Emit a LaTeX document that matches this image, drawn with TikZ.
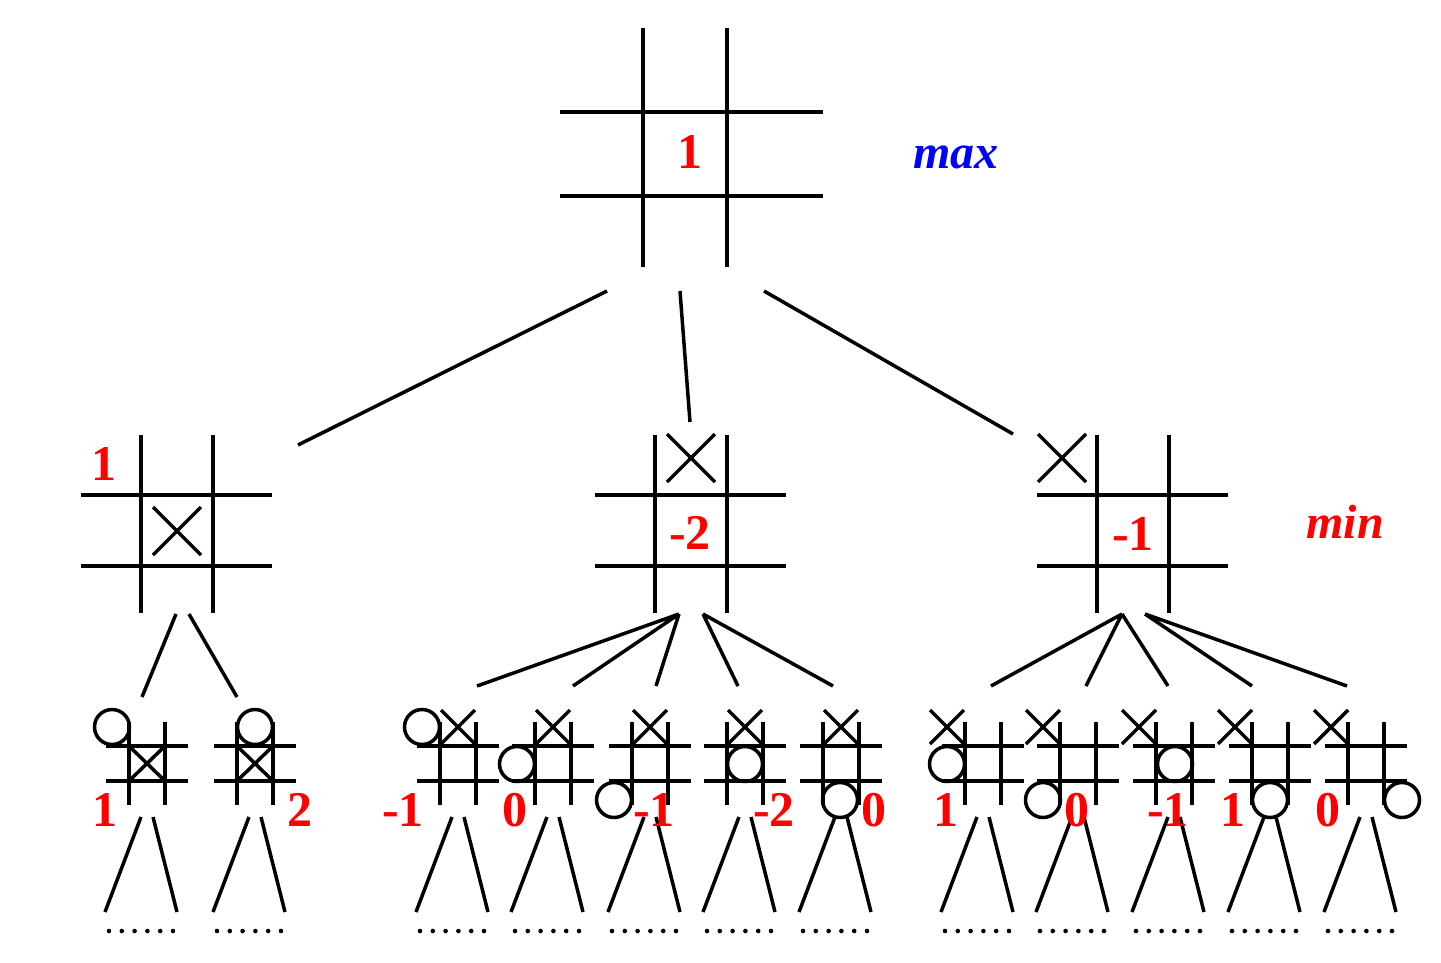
\documentclass[tikz,border=0pt]{standalone}
\usepackage{fontspec}
\setmainfont{Liberation Serif}
\begin{document}
\begin{tikzpicture}[x=1pt,y=-1pt,
  ln/.style={line width=3.5pt},
  val/.style={text=red,font=\fontsize{50}{50}\selectfont\bfseries,inner sep=0pt},
  lvl/.style={font=\fontsize{48}{48}\selectfont\bfseries\itshape,inner sep=0pt,anchor=base},
  xs/.pic={\draw[ln] (-17,-17)--(17,17) (-17,17)--(17,-17);},
  xc/.pic={\draw[ln] (0,0)--(36,35) (0,35)--(36,0);},
  xb/.pic={\draw[ln] (-24,-24)--(24,24) (-24,24)--(24,-24);},
  os/.pic={\draw[ln] (0,0) circle[radius=17.5pt];},
  sboard/.pic={
    \draw[ln] (0,-24)--(0,59) (36,-24)--(36,59) (-23,0)--(59,0) (-23,35)--(59,35);
    \coordinate (-a) at (12,71); \coordinate (-b) at (-24,166);
    \coordinate (-c) at (24,71); \coordinate (-d) at (48,166);
    \draw[ln] (12,71)--(-24,166) (24,71)--(48,166);
    \foreach \i in {0,...,5}{\fill (-20+12.8*\i,185) circle[radius=2.3pt];}
  },
  mboard/.pic={\draw[ln] (0,-60)--(0,118) (72,-60)--(72,118) (-60,0)--(131,0) (-60,71)--(131,71);}
]
\useasboundingbox (0,0) rectangle (1441,962);

% root board
\draw[ln] (643,28)--(643,267) (727,28)--(727,267) (560,112)--(823,112) (560,196)--(823,196);

% level 2 boards
\pic (L) at (141,495) {mboard}; \pic (Lx) at (177,531) {xb};
\pic (M) at (655,495) {mboard}; \pic (Mx) at (691,458) {xb};
\pic (R) at (1097,495) {mboard}; \pic (Rx) at (1062,458) {xb};

% root -> level 2
\coordinate (t1) at (607,291); \coordinate (c1) at (298,445);
\coordinate (t2) at (680,291); \coordinate (c2) at (690,422);
\coordinate (t3) at (764,291); \coordinate (c3) at (1013,434);
\draw[ln] (t1)--(c1) (t2)--(c2) (t3)--(c3);

% level 3 boards
\pic (b1) at (129,746) {sboard};  \pic (b1x) at (129,746) {xc}; \pic (b1o) at (112,727) {os};
\pic (b2) at (237,746) {sboard};  \pic (b2x) at (237,746) {xc}; \pic (b2o) at (255,727) {os};
\pic (bA) at (440,746) {sboard};  \pic (bAx) at (458,727) {xs}; \pic (bAo) at (422,727) {os};
\pic (bB) at (535,746) {sboard};  \pic (bBx) at (553,727) {xs}; \pic (bBo) at (517,764) {os};
\pic (bC) at (632,746) {sboard};  \pic (bCx) at (650,727) {xs}; \pic (bCo) at (614,800) {os};
\pic (bD) at (727,746) {sboard};  \pic (bDx) at (745,727) {xs}; \pic (bDo) at (745,764) {os};
\pic (bE) at (823,746) {sboard};  \pic (bEx) at (841,727) {xs}; \pic (bEo) at (840,800) {os};
\pic (bF) at (965,746) {sboard};  \pic (bFx) at (947,727) {xs}; \pic (bFo) at (947,764) {os};
\pic (bG) at (1060,746) {sboard}; \pic (bGx) at (1043,727) {xs}; \pic (bGo) at (1043,800) {os};
\pic (bH) at (1156,746) {sboard}; \pic (bHx) at (1139,727) {xs}; \pic (bHo) at (1175,764) {os};
\pic (bI) at (1252,746) {sboard}; \pic (bIx) at (1235,727) {xs}; \pic (bIo) at (1270,800) {os};
\pic (bJ) at (1348,746) {sboard}; \pic (bJx) at (1331,727) {xs}; \pic (bJo) at (1402,800) {os};

% level 2 -> level 3
\coordinate (La) at (176,614); \coordinate (Lb) at (189,614);
\coordinate (l1) at (142,697); \coordinate (l2) at (237,697);
\draw[ln] (La)--(l1) (Lb)--(l2);
\coordinate (Ma) at (679,614); \coordinate (Mb) at (703,614);
\coordinate (m1) at (477,686); \coordinate (m2) at (573,686); \coordinate (m3) at (656,686);
\coordinate (m4) at (738,686); \coordinate (m5) at (833,686);
\draw[ln] (Ma)--(m1) (Ma)--(m2) (Ma)--(m3) (Mb)--(m4) (Mb)--(m5);
\coordinate (Ra) at (1122,614); \coordinate (Rb) at (1145,614);
\coordinate (r1) at (991,686); \coordinate (r2) at (1086,686); \coordinate (r3) at (1168,686);
\coordinate (r4) at (1252,686); \coordinate (r5) at (1347,686);
\draw[ln] (Ra)--(r1) (Ra)--(r2) (Ra)--(r3) (Rb)--(r4) (Rb)--(r5);

% values
\node[val] (v0) at (690,152) {1};
\node[val] (vL) at (104,464) {1};
\node[val] (vM) at (690,533) {-2};
\node[val] (vR) at (1133,534) {-1};
\node[val] (v1) at (105,810) {1};
\node[val] (v2) at (300,810) {2};
\node[val] (vA) at (403,810) {-1};
\node[val] (vB) at (515,810) {0};
\node[val] (vC) at (654,810) {-1};
\node[val] (vD) at (774,810) {-2};
\node[val] (vE) at (874,810) {0};
\node[val] (vF) at (946,810) {1};
\node[val] (vG) at (1077,810) {0};
\node[val] (vH) at (1168,810) {-1};
\node[val] (vI) at (1233,810) {1};
\node[val] (vJ) at (1328,810) {0};

\node[lvl,text=blue] (mx) at (956,168) {max};
\node[lvl,text=red] (mn) at (1345,538) {min};
\end{tikzpicture}
\end{document}
